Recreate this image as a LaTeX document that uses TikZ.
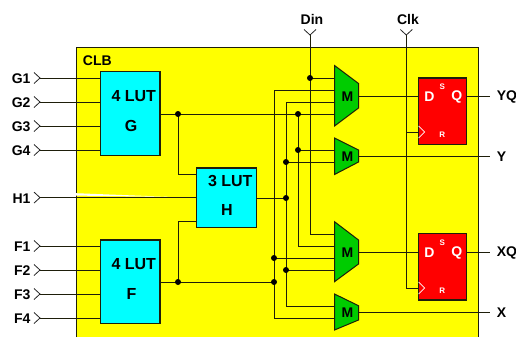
\documentclass[tikz,border=0pt]{standalone}
\usepackage{fontspec}
\usetikzlibrary{calc}
\setmainfont{Liberation Sans}
\definecolor{clbyellow}{RGB}{255,255,0}
\definecolor{lutcyan}{RGB}{0,255,255}
\definecolor{muxgreen}{RGB}{0,204,0}
\definecolor{ffred}{RGB}{255,0,0}
\definecolor{wirecol}{RGB}{30,30,10}
\tikzset{
  wire/.style={draw=wirecol,line width=0.95pt,line cap=butt,line join=miter},
  chev/.style={draw=black!85,line width=0.8pt},
  lutbox/.style={draw=wirecol,line width=1.1pt,fill=lutcyan,inner sep=0,minimum width=59.5pt},
  ffbox/.style={draw=wirecol,line width=1.1pt,fill=ffred,inner sep=0,minimum width=48.4pt,minimum height=66.5pt},
  muxshape/.style={draw=wirecol,line width=1pt,fill=muxgreen,line join=miter},
  lab/.style={font=\fontsize{14}{14}\selectfont\bfseries,inner sep=0,text=black},
  lutlab/.style={font=\fontsize{16}{16}\selectfont\bfseries,inner sep=0,text=black},
  ffbig/.style={font=\fontsize{14}{14}\selectfont\bfseries,inner sep=0,text=white},
  ffsmall/.style={font=\fontsize{8}{8}\selectfont\bfseries,inner sep=0,text=white},
  jdot/.style={circle,fill=black,inner sep=0,minimum size=6pt},
}
\begin{document}
\begin{tikzpicture}[x=1pt,y=-1pt]
\useasboundingbox (0,0) rectangle (516,337);
% CLB background
\fill[clbyellow] (76.5,47.5) rectangle (478.5,337);
\draw[wirecol,line width=1pt] (76.5,337) -- (76.5,47.5) -- (478.5,47.5) -- (478.5,337);
\fill[white] (76,193.2) -- (168,196.8) -- (76,195.6) -- cycle;
\node[lab,anchor=west] (clblab) at (82.7,61) {CLB};

% Blocks
\node[lutbox,minimum height=84pt] (lutG) at (130.25,113.5) {};
\node[lutbox,minimum height=83.5pt] (lutF) at (130.25,281.75) {};
\node[lutbox,minimum height=59.5pt] (lutH) at (226.5,197.75) {};
\node[ffbox] (ffY) at (442.5,111.25) {};
\node[ffbox] (ffX) at (442.5,266.75) {};

% Coordinates: external pins
\foreach \n/\y in {g1/78,g2/102,g3/126,g4/150,h1/197.6,f1/246,f2/270,f3/294,f4/318}
  \coordinate (\n) at (40,\y);
\coordinate (din) at (310,35);
\coordinate (clk) at (406.3,35);
\coordinate (cky) at (406.3,132);
\coordinate (ckx) at (406.3,288);
\coordinate (hg) at (178,174);
\coordinate (hf) at (178,221.6);

% Multiplexer pins
\coordinate (m1a) at (334.5,78);  \coordinate (m1b) at (334.5,90);
\coordinate (m1c) at (334.5,102); \coordinate (m1d) at (334.5,114);
\coordinate (m2a) at (334.5,150); \coordinate (m2b) at (334.5,162);
\coordinate (m3a) at (334.5,234); \coordinate (m3b) at (334.5,246);
\coordinate (m3c) at (334.5,258); \coordinate (m3d) at (334.5,270);
\coordinate (m4a) at (334.5,306); \coordinate (m4b) at (334.5,318);
\coordinate (m1o) at (358.5,96);  \coordinate (m2o) at (358.5,156);
\coordinate (m3o) at (358.5,252); \coordinate (m4o) at (358.5,312);

% Junctions
\coordinate (jg) at (178,114);  \coordinate (jf) at (178,282);
\coordinate (j1) at (310,78);   \coordinate (j2) at (298,114);
\coordinate (j3) at (298,150);  \coordinate (j4) at (286,162);
\coordinate (j5) at (286,198);  \coordinate (j6) at (274,258);
\coordinate (j7) at (286,270);  \coordinate (j8) at (274,282);

% Output ends
\coordinate (yq) at (490,96);  \coordinate (y)  at (490,156);
\coordinate (xq) at (490,252); \coordinate (xo) at (490,312);

% Wires
\foreach \n in {g1,g2,g3,g4} \draw[wire] (\n) -- (\n -| lutG.west);
\draw[wire] (h1) -- (h1 -| lutH.west);
\foreach \n in {f1,f2,f3,f4} \draw[wire] (\n) -- (\n -| lutF.west);

\draw[wire] (jg -| lutG.east) -- (m1d);
\draw[wire] (jf -| lutF.east) -- (j8);
\draw[wire] (jg) -- (hg) -- (hg -| lutH.west);
\draw[wire] (jf) -- (hf) -- (hf -| lutH.west);
\draw[wire] (j5 -| lutH.east) -- (j5);

\draw[wire] (din) -- (310,234) -- (m3a);
\draw[wire] (j1) -- (m1a);
\draw[wire] (m1b) -- (274,90) -- (274,318) -- (m4b);
\draw[wire] (m1c) -- (286,102) -- (286,306) -- (m4a);
\draw[wire] (j2) -- (298,246) -- (m3b);
\draw[wire] (j3) -- (m2a);
\draw[wire] (j4) -- (m2b);
\draw[wire] (j6) -- (m3c);
\draw[wire] (j7) -- (m3d);

\draw[wire] (clk) -- (ckx) -- (ckx -| ffX.west);
\draw[wire] (cky) -- (cky -| ffY.west);

\draw[wire] (m1o) -- (m1o -| ffY.west);
\draw[wire] (m3o) -- (m3o -| ffX.west);
\draw[wire] (yq -| ffY.east) -- (yq);
\draw[wire] (xq -| ffX.east) -- (xq);
\draw[wire] (m2o) -- (y);
\draw[wire] (m4o) -- (xo);

% Chevrons
\foreach \n in {g1,g2,g3,g4,h1,f1,f2,f3,f4}
  \draw[chev] ($(\n)+(-6,-5.5)$) -- (\n) -- ($(\n)+(-6,5.5)$);
\draw[chev] ($(din)+(-6,-5.5)$) -- (din) -- ($(din)+(6,-5.5)$);
\draw[chev] ($(clk)+(-6,-5.5)$) -- (clk) -- ($(clk)+(6,-5.5)$);

% Multiplexers
\draw[muxshape] (334.5,65.5) -- (358.5,83.5) -- (358.5,108) -- (334.5,126) -- cycle;
\draw[muxshape] (334.5,138) -- (358.5,150) -- (358.5,162) -- (334.5,174.5) -- cycle;
\draw[muxshape] (334.5,221.7) -- (358.5,240) -- (358.5,264) -- (334.5,281.7) -- cycle;
\draw[muxshape] (334.5,294) -- (358.5,305.7) -- (358.5,320) -- (334.5,330) -- cycle;
\node[lab] (mx1) at (347.5,97) {M};
\node[lab] (mx2) at (347.5,157) {M};
\node[lab] (mx3) at (347.5,252.7) {M};
\node[lab] (mx4) at (347.5,313) {M};

% Junction dots
\foreach \n in {jg,jf,j1,j2,j3,j4,j5,j6,j7,j8}
  \node[jdot] at (\n) {};

% LUT labels
\node[lutlab] (tg1) at (133.8,96) {4 LUT};
\node[lutlab] (tg2) at (131,126) {G};
\node[lutlab] (th1) at (230.3,180.7) {3 LUT};
\node[lutlab] (th2) at (227,210) {H};
\node[lutlab] (tf1) at (133.8,264.3) {4 LUT};
\node[lutlab] (tf2) at (131.5,294) {F};

% Flip-flop labels and clock marks
\node[ffbig] (dY) at (429.3,97) {D};
\node[ffbig] (qY) at (456.7,97) {Q};
\node[ffsmall] (sY) at (442.3,86.5) {S};
\node[ffsmall] (rY) at (442.3,134.5) {R};
\node[ffbig] (dX) at (429.3,252.7) {D};
\node[ffbig] (qX) at (456.7,252.7) {Q};
\node[ffsmall] (sX) at (442.3,242.7) {S};
\node[ffsmall] (rX) at (442.3,290.7) {R};
\draw[white,line width=0.8pt] (418.6,126) -- (424.6,132) -- (418.6,138);
\draw[white,line width=0.8pt] (418.6,282) -- (424.6,288) -- (418.6,294);

% Pin labels
\foreach \t/\y in {G1/78.5,G2/102.5,G3/127,G4/151,H1/199,F1/247,F2/271,F3/295,F4/319}
  \node[lab,anchor=east] (lab\t) at (30.7,\y) {\t};
\node[lab] (ldin) at (312,19) {Din};
\node[lab] (lclk) at (408,19) {Clk};
\node[lab,anchor=west] (lyq) at (496.7,97) {YQ};
\node[lab,anchor=west] (ly) at (496.7,156.5) {Y};
\node[lab,anchor=west] (lxq) at (496.7,253) {XQ};
\node[lab,anchor=west] (lx) at (496.7,313) {X};
\end{tikzpicture}
\end{document}
